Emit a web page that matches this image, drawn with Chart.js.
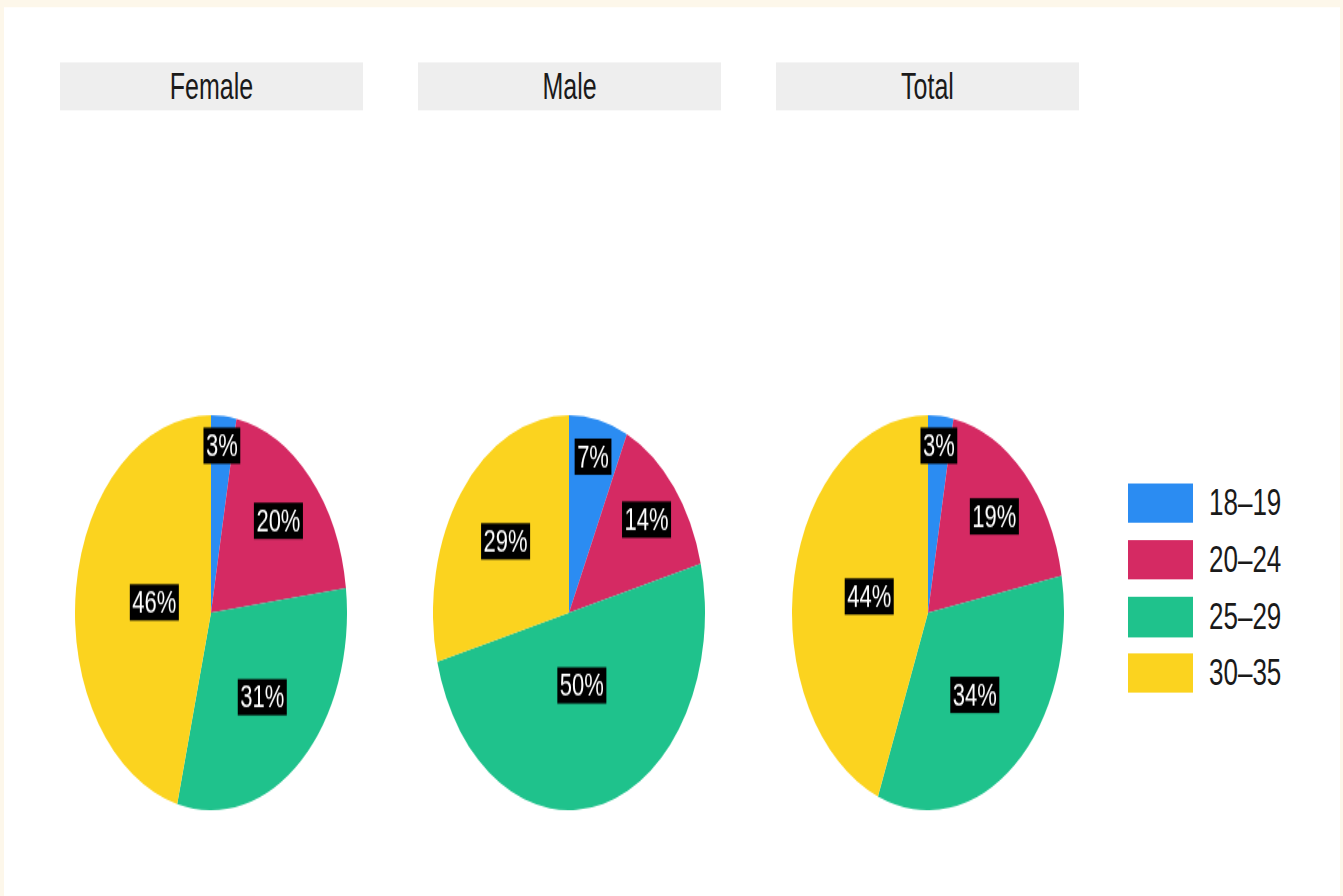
<!DOCTYPE html>
<html>
<head>
<meta charset="utf-8">
<title>Age groups by sex</title>
<script src="https://cdn.jsdelivr.net/npm/chart.js@4/dist/chart.umd.min.js"></script>
<style>
  html, body { margin: 0; padding: 0; }
  body { width: 1343px; height: 896px; overflow: hidden; background: #fdf7ea; font-family: "Liberation Sans", Arial, Helvetica, sans-serif; }
  /* the figure is laid out at its natural height and stretched vertically */
  #figure { position: absolute; left: 0; top: 0; width: 1343px; height: 617px; transform: scaleY(1.452); transform-origin: 0 0; }
  #panel { position: absolute; left: 4px; top: 5px; right: 3px; bottom: 0; background: #ffffff; }
  .strip { position: absolute; top: 42.7px; width: 303px; height: 33.7px; background: #eeeeee; color: #1a1a1a; font-size: 25px; line-height: 33.7px; text-align: center; }
  .pie { position: absolute; top: 285.5px; width: 272px; height: 272px; }
  .pie canvas { display: block; }
  .key { position: absolute; left: 1128px; width: 65px; height: 27.5px; }
  .keylabel { position: absolute; left: 1209px; height: 27.5px; line-height: 27.5px; font-size: 26px; color: #1a1a1a; }
</style>
</head>
<body>
<div id="figure">
  <div id="panel"></div>
</div>
<script>
// Age groups and their share (%) in each panel
const ageGroups = ['18–19', '20–24', '25–29', '30–35'];
const femaleShare = [3, 20, 31, 46];
const maleShare = [7, 14, 50, 29];
const totalShare = [3, 19, 34, 44];
const panelTitles = ['Female', 'Male', 'Total'];
const groupColors = ['#2b8cf2', '#d52a63', '#1fc28c', '#fbd31f'];

const panelData = [femaleShare, maleShare, totalShare];
const panelLeft = [60, 418, 776];
const pieLeft = [75, 433, 792];
const keyTop = [332.6, 371.9, 411.2, 449.7];

const figure = document.getElementById('figure');

// Percentage labels in black boxes; smaller slices sit further out
const sliceLabels = {
  id: 'sliceLabels',
  afterDatasetsDraw(chart) {
    const ctx = chart.ctx;
    const meta = chart.getDatasetMeta(0);
    const values = chart.data.datasets[0].data;
    const sum = values.reduce((a, b) => a + b, 0);
    ctx.save();
    ctx.font = '22px "Liberation Sans", Arial, sans-serif';
    ctx.textAlign = 'center';
    ctx.textBaseline = 'middle';
    meta.data.forEach((arc, i) => {
      const p = arc.getProps(['x', 'y', 'startAngle', 'endAngle', 'outerRadius'], true);
      const mid = (p.startAngle + p.endAngle) / 2;
      const frac = 0.88 - values[i] / sum;
      const x = p.x + Math.cos(mid) * p.outerRadius * frac;
      const y = p.y + Math.sin(mid) * p.outerRadius * frac;
      const text = values[i] + '%';
      const w = ctx.measureText(text).width + 5;
      const h = 25;
      ctx.fillStyle = '#000000';
      ctx.fillRect(x - w / 2, y - h / 2, w, h);
      ctx.fillStyle = '#ffffff';
      ctx.fillText(text, x, y + 1);
    });
    ctx.restore();
  }
};

panelTitles.forEach((title, k) => {
  const strip = document.createElement('div');
  strip.className = 'strip';
  strip.style.left = panelLeft[k] + 'px';
  strip.textContent = title;
  figure.appendChild(strip);

  const box = document.createElement('div');
  box.className = 'pie';
  box.style.left = pieLeft[k] + 'px';
  const canvas = document.createElement('canvas');
  canvas.width = 272;
  canvas.height = 272;
  box.appendChild(canvas);
  figure.appendChild(box);

  new Chart(canvas, {
    type: 'pie',
    data: {
      labels: ageGroups,
      datasets: [{
        data: panelData[k],
        backgroundColor: groupColors,
        borderWidth: 0
      }]
    },
    options: {
      responsive: false,
      maintainAspectRatio: false,
      animation: false,
      layout: { padding: 0 },
      plugins: {
        legend: { display: false },
        tooltip: { enabled: false }
      }
    },
    plugins: [sliceLabels]
  });
});

// Legend built from the same groups and colours
ageGroups.forEach((g, i) => {
  const key = document.createElement('div');
  key.className = 'key';
  key.style.top = keyTop[i] + 'px';
  key.style.background = groupColors[i];
  figure.appendChild(key);
  const lab = document.createElement('div');
  lab.className = 'keylabel';
  lab.style.top = keyTop[i] + 'px';
  lab.textContent = g;
  figure.appendChild(lab);
});
</script>
</body>
</html>
